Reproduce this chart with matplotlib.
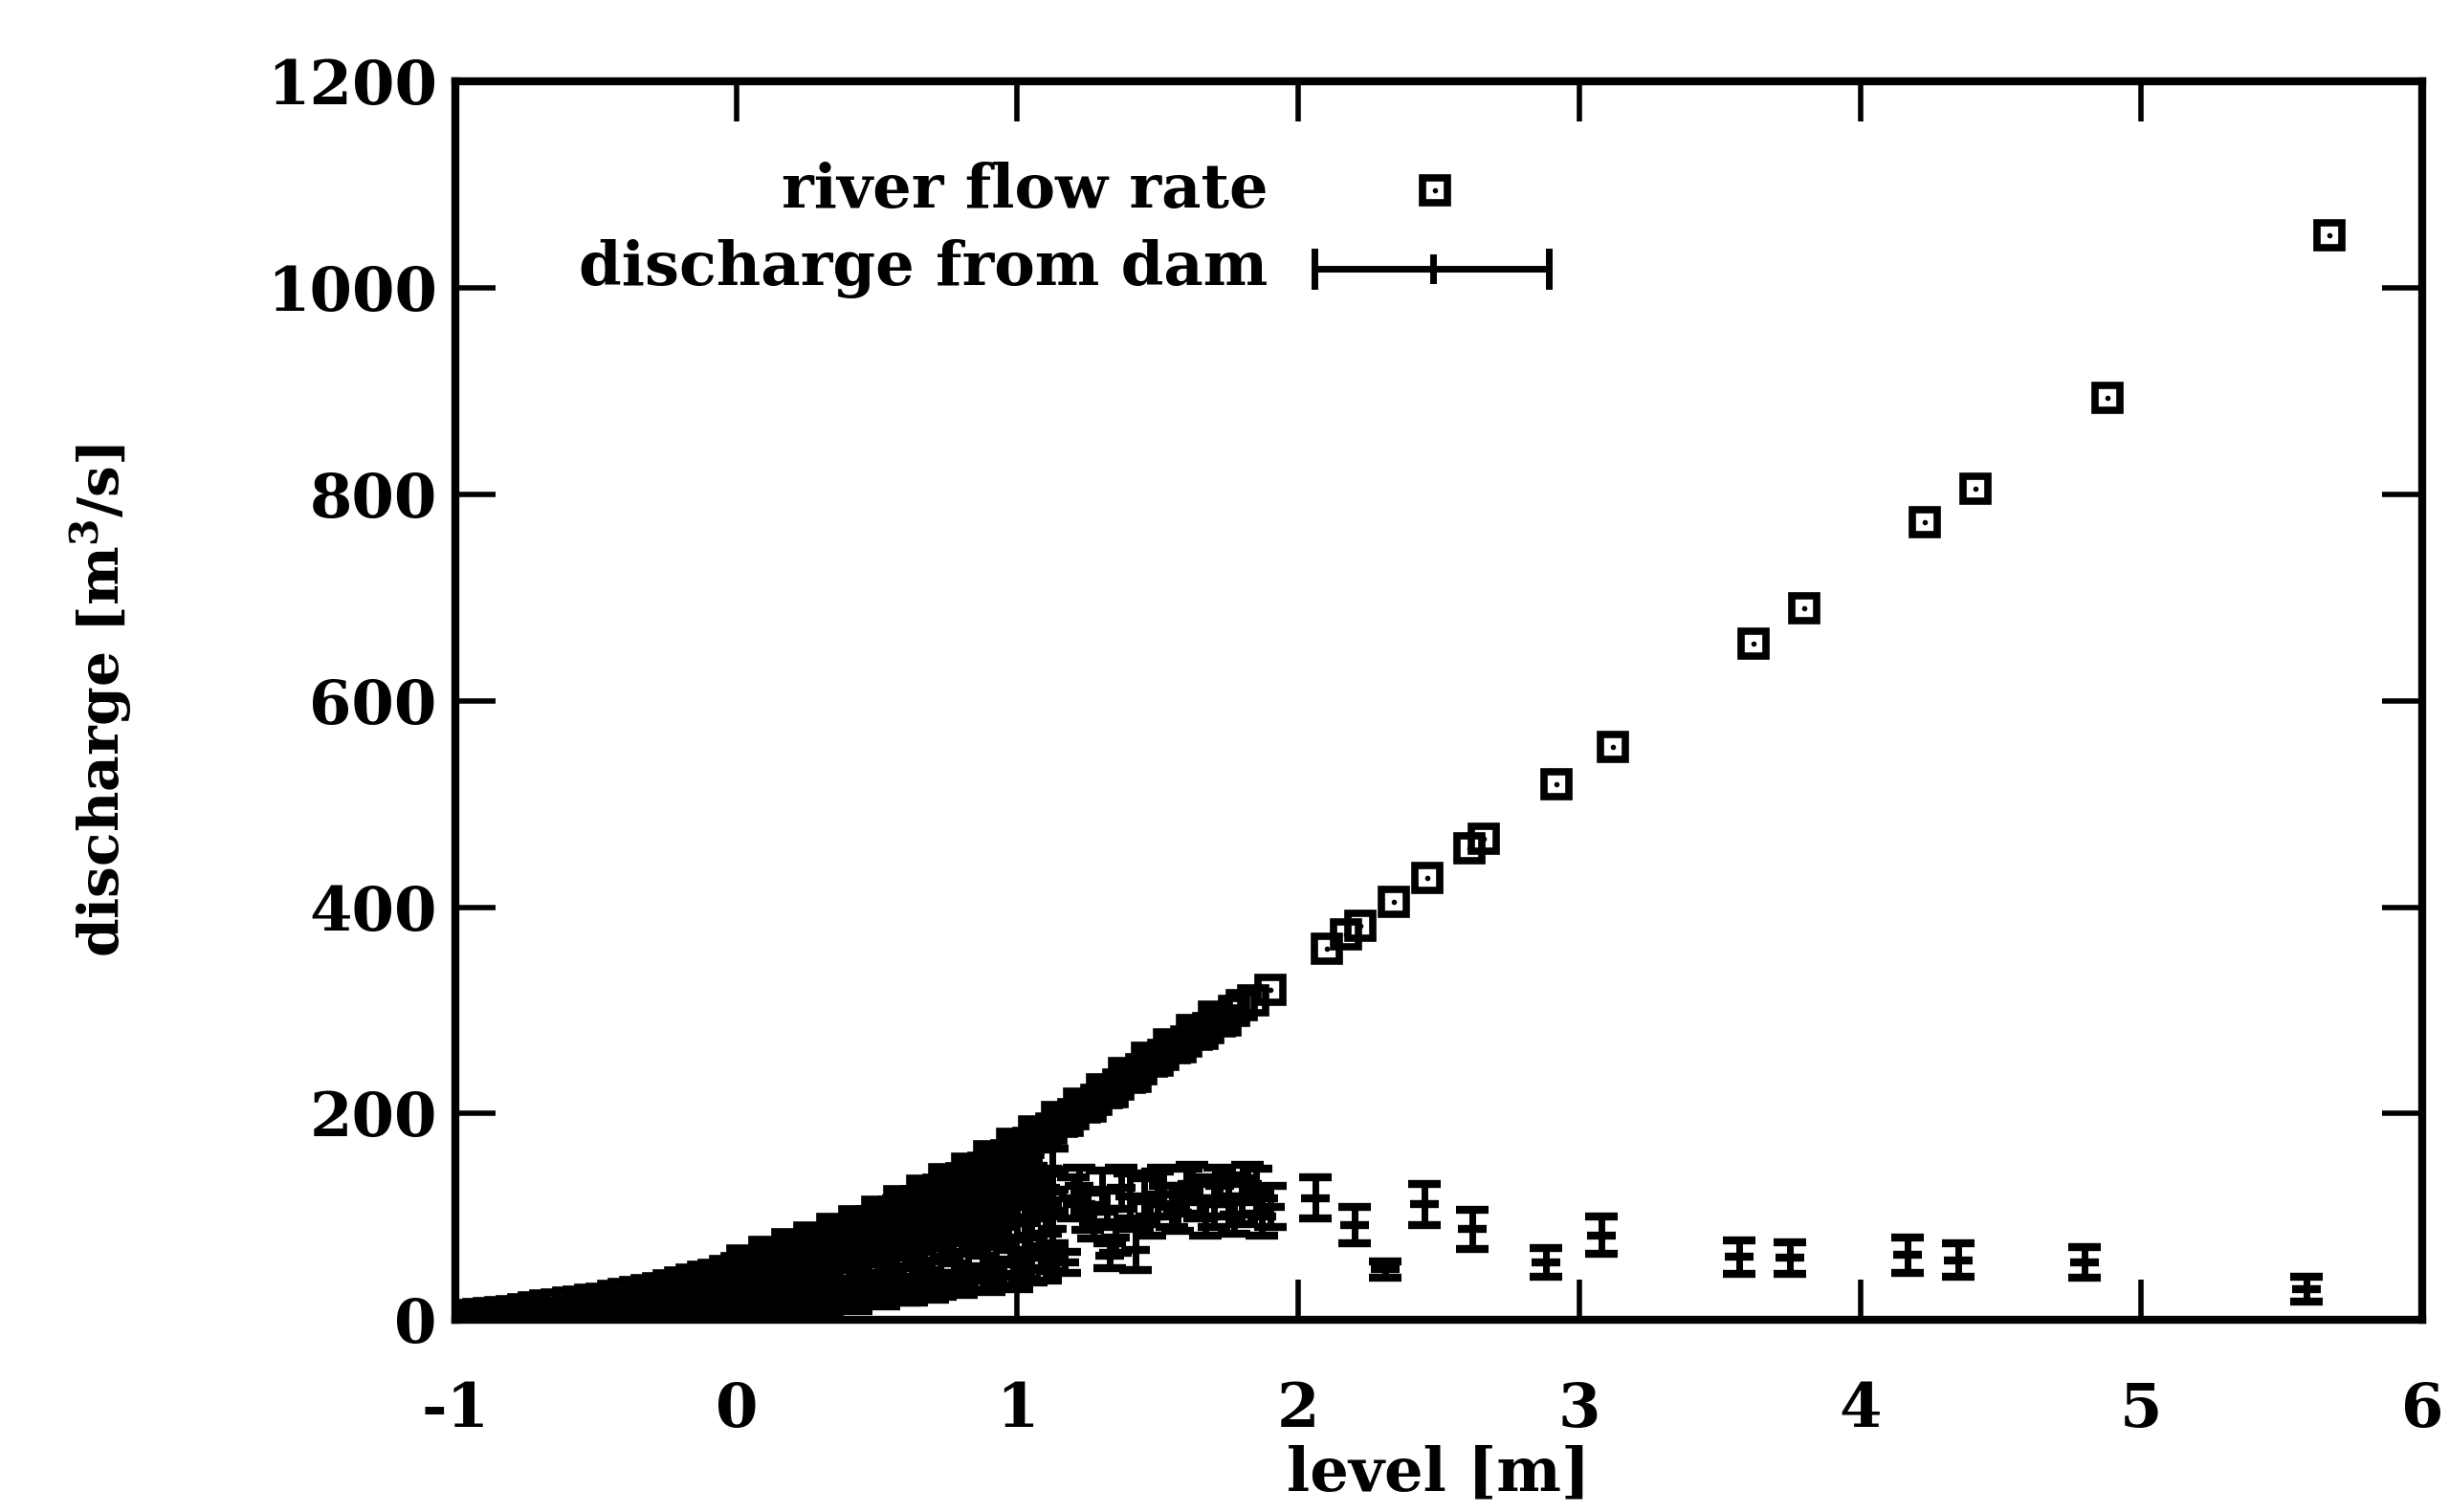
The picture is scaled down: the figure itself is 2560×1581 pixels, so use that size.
import matplotlib
matplotlib.use("Agg")
import matplotlib.pyplot as plt

plt.rcParams['font.family'] = ['DejaVu Serif']
plt.rcParams['font.weight'] = 'bold'
plt.rcParams['mathtext.fontset'] = 'dejavuserif'
plt.rcParams['mathtext.default'] = 'bf'

# river flow rate (level [m], discharge [m3/s])
river_level = [-1.00, -0.96, -0.92, -0.88, -0.84, -0.80, -0.76, -0.72, -0.68, -0.64,
               -0.60, -0.56, -0.52, -0.48, -0.44, -0.40, -0.36, -0.32, -0.28, -0.24,
               -0.20, -0.16, -0.12, -0.08, -0.04, 0.00, 0.04, 0.08, 0.12, 0.16,
               0.20, 0.24, 0.28, 0.32, 0.36, 0.40, 0.44, 0.48, 0.52, 0.56,
               0.60, 0.64, 0.68, 0.72, 0.76, 0.80, 0.84, 0.88, 0.92, 0.96,
               1.00, 1.04, 1.08, 1.12, 1.16, 1.20, 1.24, 1.28, 1.32, 1.36,
               1.40, 1.44, 1.48, 1.52, 1.56, 1.60, 1.64, 1.68, 1.72, 1.80,
               1.84, 1.90, 2.10, 2.17, 2.22, 2.34, 2.46, 2.61, 2.66, 2.92,
               3.12, 3.62, 3.80, 4.23, 4.41, 4.88, 5.67,
               -0.30, -0.10, 0.02, 0.06, 0.10, 0.14, 0.18, 0.22, 0.26, 0.30,
               0.34, 0.38, 0.42, 0.46, 0.50, 0.54, 0.58, 0.62, 0.66, 0.70,
               0.74, 0.78, 0.82, 0.86, 0.90, 0.94, 0.98, 1.02, 1.06, 1.10,
               1.14, 1.18, 1.22, 1.26, 1.30, 1.34, 1.38, 1.42, 1.46, 1.50,
               1.54, 1.58, 1.62, 1.66, 1.70, 1.74, 1.77]
river_flow = [4, 5, 6, 7, 8, 9, 10, 12, 14, 15,
              17, 18, 20, 21, 23, 25, 27, 29, 31, 34,
              36, 39, 42, 44, 47, 50, 53, 57, 60, 64,
              67, 71, 75, 79, 83, 87, 91, 96, 100, 105,
              110, 115, 120, 126, 131, 137, 142, 148, 154, 160,
              166, 172, 179, 186, 192, 199, 206, 213, 220, 228,
              235, 243, 250, 257, 263, 270, 276, 283, 289, 305,
              310, 320, 360, 374, 382, 405, 428, 457, 466, 519,
              555, 655, 690, 773, 806, 894, 1051,
              24, 35, 58, 52, 66, 59, 73, 66, 80, 75,
              88, 83, 96, 91, 105, 100, 115, 110, 125, 120,
              136, 132, 147, 143, 159, 155, 171, 167, 183, 180,
              197, 193, 210, 207, 224, 221, 239, 236, 254, 251,
              267, 264, 281, 277, 294, 290, 300]

# discharge from dam with error, grouped by level
dam_level = [-1.00, -1.00, -0.95, -0.95, -0.90, -0.90, -0.85, -0.85, -0.80, -0.80,
             -0.75, -0.75, -0.70, -0.70, -0.65, -0.65, -0.60, -0.60, -0.55, -0.55,
             -0.50, -0.50, -0.45, -0.45, -0.40, -0.40, -0.35, -0.35, -0.30, -0.30,
             -0.25, -0.25, -0.20, -0.20, -0.15, -0.15,
             -0.10, -0.10, -0.10, -0.05, -0.05, -0.05, 0.00, 0.00, 0.00,
             0.05, 0.05, 0.05, 0.10, 0.10, 0.10, 0.15, 0.15, 0.15,
             0.20, 0.20, 0.20, 0.25, 0.25, 0.25, 0.30, 0.30, 0.30,
             0.35, 0.35, 0.35, 0.40, 0.40, 0.40, 0.45, 0.45, 0.45,
             0.50, 0.50, 0.50, 0.55, 0.55, 0.55, 0.60, 0.60, 0.60,
             0.65, 0.65, 0.65, 0.70, 0.70, 0.70, 0.75, 0.75, 0.75,
             0.80, 0.80, 0.80, 0.85, 0.85, 0.85, 0.90, 0.90, 0.90,
             0.95, 0.95, 0.95, 1.00, 1.00, 1.00, 1.05, 1.05, 1.05,
             1.10, 1.10, 1.10,
             -0.125, -0.125, -0.075, -0.075, -0.075, -0.025, -0.025,
             0.025, 0.025, 0.025, 0.075, 0.075, 0.125, 0.125, 0.125,
             0.175, 0.175, 0.225, 0.225, 0.225, 0.275, 0.275,
             0.325, 0.325, 0.325, 0.325, 0.375, 0.375, 0.375,
             0.425, 0.425, 0.425, 0.425, 0.475, 0.475, 0.475,
             0.525, 0.525, 0.525, 0.525, 0.575, 0.575, 0.575,
             0.625, 0.625, 0.625, 0.625, 0.675, 0.675, 0.675,
             0.725, 0.725, 0.725, 0.725, 0.775, 0.775, 0.775,
             0.825, 0.825, 0.825, 0.825, 0.875, 0.875, 0.875,
             0.925, 0.925, 0.925, 0.925, 0.975, 0.975, 0.975,
             1.025, 1.025, 1.025, 1.025, 1.075, 1.075, 1.075,
             1.125, 1.125, 1.125, 1.125,
             1.17, 1.20, 1.22, 1.25, 1.27, 1.30, 1.32, 1.33, 1.35, 1.37,
             1.40, 1.42, 1.45, 1.47, 1.50, 1.52, 1.55, 1.57, 1.60, 1.62,
             1.65, 1.67, 1.70, 1.72, 1.75, 1.77, 1.80, 1.82, 1.85, 1.87,
             1.90, 2.06, 2.20, 2.31, 2.45, 2.62, 2.88, 3.08, 3.57,
             3.75, 4.17, 4.35, 4.80, 5.59]
dam_flow = [2, 6, 3, 7, 2, 8, 4, 9, 3, 10,
            5, 11, 3, 12, 6, 14, 4, 15, 7, 17,
            5, 18, 8, 20, 6, 22, 9, 24, 7, 26,
            10, 28, 8, 31, 12, 34,
            9, 22, 37, 12, 25, 40, 8, 28, 44,
            12, 30, 47, 10, 33, 52, 14, 36, 56,
            11, 38, 60, 16, 42, 64, 14, 45, 68,
            20, 48, 72, 18, 50, 76, 24, 54, 80,
            22, 57, 85, 28, 60, 90, 26, 62, 95,
            32, 66, 100, 30, 70, 105, 36, 74, 110,
            34, 78, 115, 40, 82, 120, 38, 86, 125,
            45, 90, 130, 42, 94, 135, 48, 98, 130,
            50, 100, 128,
            16, 30, 6, 18, 33, 14, 36,
            5, 20, 40, 16, 44, 7, 24, 48,
            22, 52, 8, 28, 58, 30, 62,
            10, 35, 60, 76, 28, 62, 80,
            15, 40, 66, 86, 35, 70, 92,
            20, 46, 75, 98, 42, 80, 102,
            25, 52, 84, 108, 48, 88, 112,
            30, 58, 92, 118, 55, 96, 122,
            38, 64, 100, 128, 62, 104, 132,
            44, 72, 108, 136, 68, 112, 140,
            50, 80, 116, 142, 72, 120, 145,
            58, 88, 124, 146,
            56, 118, 130, 105, 95, 125, 108, 62, 80, 128,
            120, 68, 115, 100, 122, 130, 110, 104, 125, 132,
            118, 100, 112, 130, 120, 102, 115, 132, 125, 100,
            110, 118, 92, 49, 112, 88, 56, 82, 61,
            60, 63, 58, 56, 30]
dam_err = [2, 3, 2, 3, 2, 3, 2, 3, 2, 4,
           3, 4, 2, 4, 3, 5, 3, 5, 3, 5,
           3, 5, 4, 6, 3, 6, 4, 6, 4, 7,
           4, 7, 4, 7, 5, 8,
           4, 6, 8, 5, 6, 8, 4, 7, 9,
           5, 7, 9, 5, 8, 10, 6, 8, 10,
           5, 8, 11, 6, 9, 11, 6, 9, 12,
           7, 10, 12, 7, 10, 13, 8, 10, 13,
           8, 11, 14, 9, 11, 14, 9, 12, 15,
           10, 12, 15, 10, 13, 16, 10, 13, 16,
           10, 14, 17, 11, 14, 17, 11, 15, 18,
           12, 15, 18, 12, 16, 19, 12, 16, 19,
           12, 16, 19,
           6, 8, 4, 6, 8, 5, 8,
           4, 6, 9, 6, 9, 4, 7, 10,
           7, 10, 5, 8, 11, 8, 11,
           5, 9, 11, 13, 8, 11, 13,
           6, 10, 12, 14, 9, 12, 15,
           7, 10, 13, 15, 10, 13, 16,
           8, 11, 14, 16, 10, 14, 17,
           8, 12, 15, 17, 11, 15, 18,
           9, 12, 16, 18, 12, 16, 19,
           10, 13, 16, 19, 12, 17, 20,
           10, 14, 17, 20, 12, 18, 20,
           11, 14, 18, 20,
           10, 20, 18, 18, 16, 20, 18, 12, 15, 20,
           22, 20, 22, 18, 22, 18, 20, 18, 22, 18,
           20, 18, 22, 18, 20, 18, 22, 18, 22, 18,
           20, 20, 18, 8, 20, 19, 14, 18, 16,
           15, 17, 16, 15, 12]

x_ticks = [-1, 0, 1, 2, 3, 4, 5, 6]
y_ticks = [0, 200, 400, 600, 800, 1000, 1200]

fig = plt.figure(figsize=(25.6, 15.81), dpi=100)
ax = fig.add_axes([0.186, 0.127, 0.803, 0.819])

# dam discharge error bars
ax.errorbar(dam_level, dam_flow, yerr=dam_err, fmt='none', ecolor='black',
            elinewidth=5, capsize=12, capthick=6, zorder=3)
ax.plot(dam_level, dam_flow, linestyle='none', marker='_', markersize=22,
        markeredgewidth=6, color='black', zorder=3)

# river flow squares with a dot in the middle
ax.plot(river_level, river_flow, linestyle='none', marker='s', markersize=19,
        markerfacecolor='none', markeredgecolor='black', markeredgewidth=5.5, zorder=4)
ax.plot(river_level, river_flow, linestyle='none', marker='.', markersize=6,
        color='black', zorder=5)

ax.set_xlim(-1, 6)
ax.set_ylim(0, 1200)
ax.set_xticks(x_ticks)
ax.set_yticks(y_ticks)
ax.set_xticklabels([str(t) for t in x_ticks])
ax.tick_params(direction='in', length=30, width=4, top=True, right=True,
               labelsize=46)
ax.tick_params(axis='x', pad=46)
ax.tick_params(axis='y', pad=14)
for s in ax.spines.values():
    s.set_linewidth(6)

ax.set_xlabel('level [m]', fontsize=46, fontweight='bold', labelpad=4)
ax.set_ylabel(r'discharge [m$^{3}$/s]', fontsize=42, fontweight='bold', labelpad=100)

# gnuplot style key
tr = ax.transAxes
ax.text(0.413, 0.912, 'river flow rate', transform=tr, ha='right', va='center',
        fontsize=46, fontweight='bold')
ax.text(0.413, 0.849, 'discharge from dam', transform=tr, ha='right', va='center',
        fontsize=46, fontweight='bold')
ax.plot([0.498], [0.912], transform=tr, linestyle='none', marker='s', markersize=19,
        markerfacecolor='none', markeredgecolor='black', markeredgewidth=5.5)
ax.plot([0.498], [0.912], transform=tr, linestyle='none', marker='.', markersize=6,
        color='black')
ax.plot([0.437, 0.556], [0.849, 0.849], transform=tr, color='black', linewidth=5)
ax.plot([0.437, 0.437], [0.835, 0.863], transform=tr, color='black', linewidth=5)
ax.plot([0.556, 0.556], [0.835, 0.863], transform=tr, color='black', linewidth=5)
ax.plot([0.497, 0.497], [0.840, 0.858], transform=tr, color='black', linewidth=5)

fig.savefig('out.png', dpi=100)
